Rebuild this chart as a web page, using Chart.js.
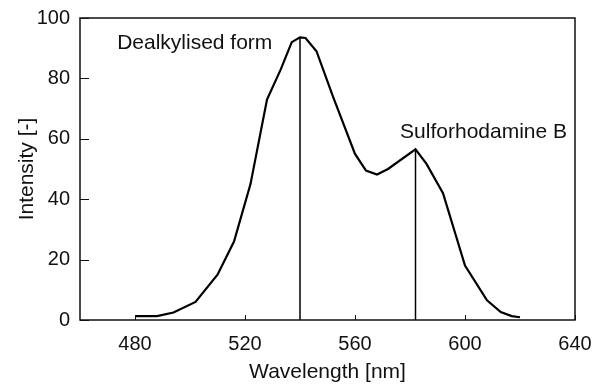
<!DOCTYPE html>
<html>
<head>
<meta charset="utf-8">
<script src="https://cdn.jsdelivr.net/npm/chart.js@4/dist/chart.umd.min.js"></script>
<style>
    html, body { margin: 0; padding: 0; background: #fff; }
    #wrap { width: 592px; height: 385px; }
</style>
</head>
<body>
<div id="wrap"><canvas id="spectrum"></canvas></div>
<script>
// --- data ---
var wavelength = [480, 488, 494, 502, 510, 516, 522, 528, 533, 537, 540, 542, 546, 552, 560, 564, 568, 572, 582, 586, 592, 600, 608, 613, 617, 620];
var intensity  = [1.3, 1.3, 2.5, 6, 15, 26, 45, 73, 83, 92, 93.6, 93.4, 89, 74, 55, 49.5, 48.2, 50, 56.5, 51.7, 42, 18, 6.5, 2.6, 1.3, 0.9];

var peakNames = ['Dealkylised form', 'Sulforhodamine B'];
var peakX = [540, 582];
var peakY = [93.6, 56.5];

var xTicks = [480, 520, 560, 600, 640];
var yTicks = [0, 20, 40, 60, 80, 100];

var FONT = '"Liberation Sans", Arial, sans-serif';

function peakLine(i) {
    return {
        data: [{ x: peakX[i], y: 0 }, { x: peakX[i], y: peakY[i] }],
        borderColor: '#000', borderWidth: 1.5, pointRadius: 0, tension: 0
    };
}

// inward tick marks, box frame, peak labels
var framePlugin = {
    id: 'frame',
    afterDraw: function(c) {
        var ctx = c.ctx, a = c.chartArea, xs = c.scales.x, ys = c.scales.y;
        ctx.save();
        ctx.strokeStyle = '#111';
        ctx.lineWidth = 1.5;
        ctx.strokeRect(a.left, a.top, a.right - a.left, a.bottom - a.top);
        ctx.lineWidth = 1;
        ctx.beginPath();
        xTicks.forEach(function(v) {
            var px = Math.round(xs.getPixelForValue(v)) + 0.5;
            ctx.moveTo(px, a.bottom); ctx.lineTo(px, a.bottom - 5);
        });
        yTicks.forEach(function(v) {
            var py = Math.round(ys.getPixelForValue(v)) + 0.5;
            ctx.moveTo(a.left, py); ctx.lineTo(a.left + 9, py);
        });
        ctx.stroke();

        ctx.fillStyle = '#111';
        ctx.font = '21px ' + FONT;
        ctx.textBaseline = 'middle';
        ctx.textAlign = 'left';
        ctx.fillText(peakNames[0], xs.getPixelForValue(473.5), ys.getPixelForValue(91.5));
        ctx.fillText(peakNames[1], xs.getPixelForValue(576.4), ys.getPixelForValue(62.1));
        ctx.restore();
    }
};

new Chart(document.getElementById('spectrum'), {
    type: 'line',
    data: {
        datasets: [
            {
                data: wavelength.map(function(w, i) { return { x: w, y: intensity[i] }; }),
                borderColor: '#000', borderWidth: 2.2, pointRadius: 0, tension: 0
            },
            peakLine(0),
            peakLine(1)
        ]
    },
    options: {
        responsive: true, maintainAspectRatio: false, animation: false,
        layout: { padding: { top: 18, right: 17, left: 0, bottom: 0 } },
        plugins: { legend: { display: false }, tooltip: { enabled: false } },
        scales: {
            x: {
                type: 'linear', min: 460, max: 640,
                afterBuildTicks: function(s) { s.ticks = xTicks.map(function(v) { return { value: v }; }); },
                afterFit: function(s) { s.height = 65; s.paddingLeft = 0; s.paddingRight = 0; },
                grid: { display: false, drawTicks: false },
                border: { display: false },
                ticks: { color: '#111', padding: 12, maxRotation: 0, font: { family: FONT, size: 20 } },
                title: { display: true, text: 'Wavelength [nm]', color: '#111', padding: { top: 0, bottom: 0 }, font: { family: FONT, size: 21 } }
            },
            y: {
                min: 0, max: 100,
                afterBuildTicks: function(s) { s.ticks = yTicks.map(function(v) { return { value: v }; }); },
                afterFit: function(s) { s.width = 80; s.paddingTop = 0; s.paddingBottom = 0; },
                grid: { display: false, drawTicks: false },
                border: { display: false },
                ticks: { color: '#111', padding: 10, font: { family: FONT, size: 20 } },
                title: { display: true, text: 'Intensity [-]', color: '#111', padding: { top: 15, bottom: 0 }, font: { family: FONT, size: 21 } }
            }
        }
    },
    plugins: [framePlugin]
});
</script>
</body>
</html>
